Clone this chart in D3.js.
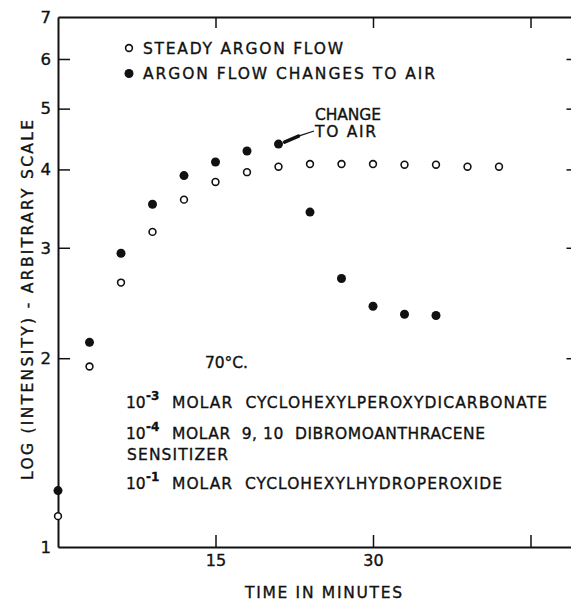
<!DOCTYPE html>
<html>
<head>
<meta charset="utf-8">
<script src="https://cdn.jsdelivr.net/npm/d3@7"></script>
<style>
  body { margin: 0; background: #fff; }
  svg { display: block; }
  text { font-family: "DejaVu Sans", "Liberation Sans", sans-serif; fill: #111; stroke: #111; stroke-width: 0.35px; }
</style>
</head>
<body>
<div class="chart"></div>
<script>
// time in minutes
var steadyTimes = [0, 3, 6, 9, 12, 15, 18, 21, 24, 27, 30, 33, 36, 39, 42];
var steadyArgon = [1.12, 1.94, 2.64, 3.18, 3.58, 3.82, 3.96, 4.04, 4.08, 4.08, 4.08, 4.07, 4.07, 4.04, 4.04];

var airTimes = [0, 3, 6, 9, 12, 15, 18, 21, 24, 27, 30, 33, 36];
var argonToAir = [1.23, 2.12, 2.94, 3.52, 3.91, 4.11, 4.28, 4.39, 3.42, 2.68, 2.42, 2.35, 2.34];

var yTicks = [1, 2, 3, 4, 5, 6, 7];
var xTicks = [15, 30, 45];
var xTickLabels = ["15", "30", ""];

var width = 571, height = 604;
var font = "DejaVu Sans, Liberation Sans, sans-serif";

var svg = d3.select(".chart")
    .append("svg")
    .attr("width", width)
    .attr("height", height);

var x = d3.scaleLinear().domain([0, 49]).range([58, 572.5]);
var y = d3.scaleLog().domain([1, 7]).range([547, 17]);

var frame = svg.append("g");

// left axis with labels, ticks pointing inward
var left = frame.append("g")
    .attr("transform", `translate(${x(0)},0)`)
    .call(d3.axisLeft(y).tickValues(yTicks).tickFormat(d3.format("d")).tickSize(-12).tickSizeOuter(0).tickPadding(7));
left.selectAll(".tick text")
    .attr("font-size", 16.5)
    .attr("font-family", font)
    .attr("fill", "#111");
left.selectAll(".tick").filter(d => d == 1 || d == 7).select("line").remove();

var bottom = frame.append("g")
    .attr("transform", `translate(0,${y(1)})`)
    .call(d3.axisBottom(x).tickValues(xTicks).tickFormat((d, i) => xTickLabels[i]).tickSize(-12).tickSizeOuter(0).tickPadding(8));
bottom.selectAll(".tick text")
    .attr("font-size", 16)
    .attr("font-family", font)
    .attr("fill", "#111");

frame.append("g")
    .attr("transform", `translate(0,${y(7)})`)
    .call(d3.axisTop(x).tickValues(xTicks).tickFormat("").tickSize(-11).tickSizeOuter(0));

frame.append("g")
    .attr("transform", `translate(${x(49)},0)`)
    .call(d3.axisRight(y).tickValues([2, 3, 4, 5, 6]).tickFormat("").tickSize(-6).tickSizeOuter(0));

frame.selectAll(".domain").attr("stroke", "#111").attr("stroke-width", 2);
frame.selectAll(".tick line").attr("stroke", "#111").attr("stroke-width", 1.5);

// axis titles
svg.append("text")
    .attr("transform", "translate(33,300) rotate(-90)")
    .attr("text-anchor", "middle")
    .attr("font-size", 15.5)
    .attr("textLength", 360)
    .attr("lengthAdjust", "spacing")
    .text("LOG (INTENSITY) - ARBITRARY SCALE");

svg.append("text")
    .attr("x", 245).attr("y", 598)
    .attr("font-size", 15.5)
    .attr("textLength", 157)
    .attr("lengthAdjust", "spacing")
    .text("TIME IN MINUTES");

// points
var marks = svg.append("g");
marks.selectAll(".steady")
    .data(steadyArgon)
    .enter().append("circle")
    .attr("class", "steady")
    .attr("cx", (d, i) => x(steadyTimes[i]))
    .attr("cy", d => y(d))
    .attr("r", 3.4)
    .attr("fill", "#fff")
    .attr("stroke", "#111")
    .attr("stroke-width", 1.6);

marks.selectAll(".air")
    .data(argonToAir)
    .enter().append("circle")
    .attr("class", "air")
    .attr("cx", (d, i) => x(airTimes[i]))
    .attr("cy", d => y(d))
    .attr("r", 4.5)
    .attr("fill", "#111");

// legend
var legend = svg.append("g").attr("font-size", 15.5);
legend.append("circle").attr("cx", 129).attr("cy", 48).attr("r", 3.4)
    .attr("fill", "#fff").attr("stroke", "#111").attr("stroke-width", 1.6);
legend.append("circle").attr("cx", 129).attr("cy", 73.5).attr("r", 4.5).attr("fill", "#111");
legend.append("text").attr("x", 143).attr("y", 54)
    .attr("textLength", 200).attr("lengthAdjust", "spacing")
    .text("STEADY ARGON FLOW");
legend.append("text").attr("x", 143).attr("y", 79)
    .attr("textLength", 292).attr("lengthAdjust", "spacing")
    .text("ARGON FLOW CHANGES TO AIR");

// change to air annotation
var px = x(21), py = y(argonToAir[7]);
svg.append("line")
    .attr("x1", px + 6).attr("y1", py - 2)
    .attr("x2", px + 20).attr("y2", py - 8)
    .attr("stroke", "#111").attr("stroke-width", 3.5).attr("stroke-linecap", "round");
svg.append("line")
    .attr("x1", px + 20).attr("y1", py - 8)
    .attr("x2", 314).attr("y2", 131)
    .attr("stroke", "#111").attr("stroke-width", 1.3);
svg.append("text").attr("x", 315).attr("y", 120).attr("font-size", 15.5)
    .attr("textLength", 66).attr("lengthAdjust", "spacing").text("CHANGE");
svg.append("text").attr("x", 315).attr("y", 137).attr("font-size", 15.5)
    .attr("textLength", 61).attr("lengthAdjust", "spacing").text("TO AIR");

// conditions
var notes = svg.append("g").attr("font-size", 15.5);
notes.append("text").attr("x", 205).attr("y", 368)
    .attr("textLength", 43).attr("lengthAdjust", "spacing").text("70°C.");

var lines = [
    {exp: "-3", rest: "MOLAR  CYCLOHEXYLPEROXYDICARBONATE", y: 408, len: 375},
    {exp: "-4", rest: "MOLAR  9, 10  DIBROMOANTHRACENE", y: 439, len: 313},
    {exp: "-1", rest: "MOLAR  CYCLOHEXYLHYDROPEROXIDE", y: 489, len: 330}
];
lines.forEach(function(l) {
    notes.append("text").attr("x", 126).attr("y", l.y).text("10");
    notes.append("text").attr("x", 146).attr("y", l.y - 8).attr("font-size", 12).attr("font-weight", "bold").text(l.exp);
    notes.append("text").attr("x", 172).attr("y", l.y)
        .attr("textLength", l.len).attr("lengthAdjust", "spacing")
        .attr("xml:space", "preserve").text(l.rest);
});
notes.append("text").attr("x", 127).attr("y", 460)
    .attr("textLength", 101).attr("lengthAdjust", "spacing").text("SENSITIZER");
</script>
</body>
</html>
